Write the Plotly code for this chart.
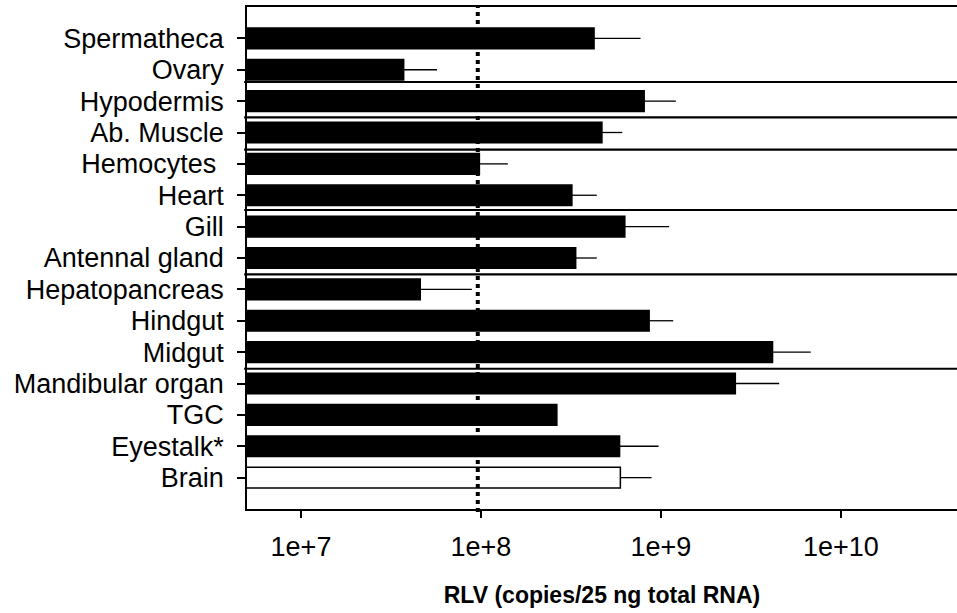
import plotly.graph_objects as go

# ---- data ----
tissues = ["Spermatheca", "Ovary", "Hypodermis", "Ab. Muscle", "Hemocytes\u00a0",
           "Heart", "Gill", "Antennal gland", "Hepatopancreas", "Hindgut",
           "Midgut", "Mandibular organ", "TGC", "Eyestalk*", "Brain"]
rlv = [4.25e8, 3.72e7, 8.07e8, 4.7e8, 9.8e7,
       3.2e8, 6.3e8, 3.36e8, 4.6e7, 8.6e8,
       4.17e9, 2.59e9, 2.64e8, 5.89e8, 5.95e8]
rlv_upper = [7.7e8, 5.7e7, 1.21e9, 6.1e8, 1.41e8,
             4.4e8, 1.11e9, 4.4e8, 8.9e7, 1.17e9,
             6.8e9, 4.54e9, 2.64e8, 9.7e8, 8.87e8]
fill_colors = ["black"] * 14 + ["white"]
threshold = 9.6e7
tick_vals = [1e7, 1e8, 1e9, 1e10]
tick_text = ["1e+7", "1e+8", "1e+9", "1e+10"]
# separator lines between tissue rows (positions in category units)
separators = [1.39, 2.516, 3.548, 5.47, 7.52, 10.53]

err_plus = [u - v for u, v in zip(rlv_upper, rlv)]

fig = go.Figure()
fig.add_trace(go.Bar(
    x=rlv, y=tissues, orientation="h", width=0.66,
    marker=dict(color=fill_colors, line=dict(color="black", width=1.5)),
    error_x=dict(type="data", array=err_plus, arrayminus=[0] * len(rlv),
                 symmetric=False, color="black", thickness=1.3, width=0),
    showlegend=False,
))

font = "Liberation Sans, Arial, sans-serif"

for s in separators:
    fig.add_shape(type="line", xref="paper", yref="y", x0=-0.004, x1=1,
                  y0=s, y1=s, line=dict(color="black", width=2.2), layer="above")

fig.add_shape(type="line", xref="x", yref="paper", x0=threshold, x1=threshold,
              y0=-0.006, y1=1, line=dict(color="black", width=4, dash="4px,4px"),
              layer="above")

fig.update_layout(
    width=957, height=613,
    margin=dict(l=247, r=0, t=7, b=104),
    paper_bgcolor="white", plot_bgcolor="white",
    font=dict(family=font, color="black"),
)
fig.update_xaxes(
    type="log", range=[6.70, 10.645],
    tickvals=tick_vals, ticktext=tick_text,
    tickfont=dict(size=27, family=font),
    ticks="outside", ticklen=7, tickwidth=1.5, tickcolor="black",
    ticklabelstandoff=6,
    showline=True, linecolor="black", linewidth=1.5, mirror=True,
    showgrid=False, zeroline=False,
    title=dict(text="<b>RLV (copies/25 ng total RNA)</b>",
               font=dict(size=23, family=font), standoff=26),
)
fig.update_yaxes(
    type="category", range=[15, -1],
    tickmode="array", tickvals=tissues, ticktext=tissues,
    tickfont=dict(size=27, family=font),
    ticks="outside", ticklen=8, tickwidth=1.5, tickcolor="black",
    ticklabelstandoff=8,
    showline=True, linecolor="black", linewidth=1.5,
    showgrid=False, zeroline=False,
)

fig.write_html(
    "out.html",
    config={"displayModeBar": False},
    post_script="document.body.style.margin='0';document.body.style.overflow='hidden';",
)
